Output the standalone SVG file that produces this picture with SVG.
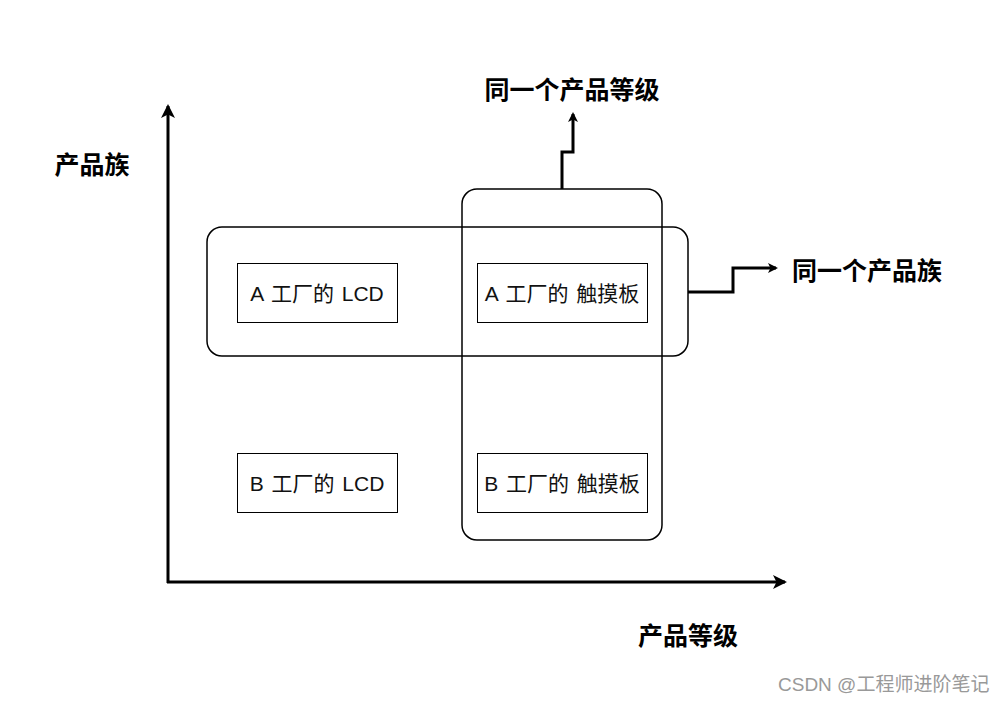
<svg xmlns="http://www.w3.org/2000/svg" width="1004" height="702" viewBox="0 0 1004 702">
<style>
.box{fill:none;stroke:#000;stroke-width:1}
.grp{fill:none;stroke:#000;stroke-width:1.5}
.ax{fill:none;stroke:#000;stroke-width:3}
.t{font-family:"Liberation Sans","Noto Sans CJK SC",sans-serif;font-size:21px;word-spacing:2px;fill:#111;text-anchor:middle;dominant-baseline:central}
.b{font-family:"Noto Sans CJK SC",sans-serif;font-size:25px;font-weight:bold;fill:#000;dominant-baseline:central}
.w{font-family:"Liberation Sans","Noto Sans CJK SC",sans-serif;font-size:19px;fill:#999}
</style>
<defs>
<marker id="ah" markerWidth="10" markerHeight="10" refX="8" refY="5" orient="auto" markerUnits="userSpaceOnUse" viewBox="0 0 10 10">
<path d="M0,0 L10,5 L0,10 L2.5,5 Z" fill="#000"/>
</marker>
<marker id="ah2" markerWidth="14" markerHeight="14" refX="12" refY="7" orient="auto" markerUnits="userSpaceOnUse" viewBox="0 0 14 14">
<path d="M0,0 L14,7 L0,14 L3.5,7 Z" fill="#000"/>
</marker>
</defs>
<rect width="1004" height="702" fill="#fff"/>
<g id="groups">
<rect id="group-row" class="grp" x="207" y="227" width="481" height="129" rx="15"/>
<rect id="group-col" class="grp" x="462" y="189" width="200" height="351" rx="15"/>
</g>
<g id="connectors">
<path class="ax" d="M168,583 V106" marker-end="url(#ah2)"/>
<path class="ax" d="M167,582 H785" marker-end="url(#ah2)"/>
<path class="ax" d="M562,189 V152 H573 V114" marker-end="url(#ah)"/>
<path class="ax" d="M688,292 H733 V268 H776" marker-end="url(#ah)"/>
</g>
<g id="node-a-lcd"><rect class="box" x="237.5" y="263.5" width="160" height="59"/><text class="t" x="317" y="293">A 工厂的 LCD</text></g>
<g id="node-a-touch"><rect class="box" x="477.5" y="263.5" width="170" height="59"/><text class="t" x="562" y="293">A 工厂的 触摸板</text></g>
<g id="node-b-lcd"><rect class="box" x="237.5" y="453.5" width="160" height="59"/><text class="t" x="317" y="483">B 工厂的 LCD</text></g>
<g id="node-b-touch"><rect class="box" x="477.5" y="453.5" width="170" height="59"/><text class="t" x="562" y="483">B 工厂的 触摸板</text></g>
<g id="labels">
<text class="b" x="572" y="88" text-anchor="middle">同一个产品等级</text>
<text class="b" x="792" y="269">同一个产品族</text>
<text class="b" x="92" y="163" text-anchor="middle">产品族</text>
<text class="b" x="688" y="634" text-anchor="middle">产品等级</text>
</g>
<text class="w" x="778" y="691">CSDN @工程师进阶笔记</text>
</svg>
